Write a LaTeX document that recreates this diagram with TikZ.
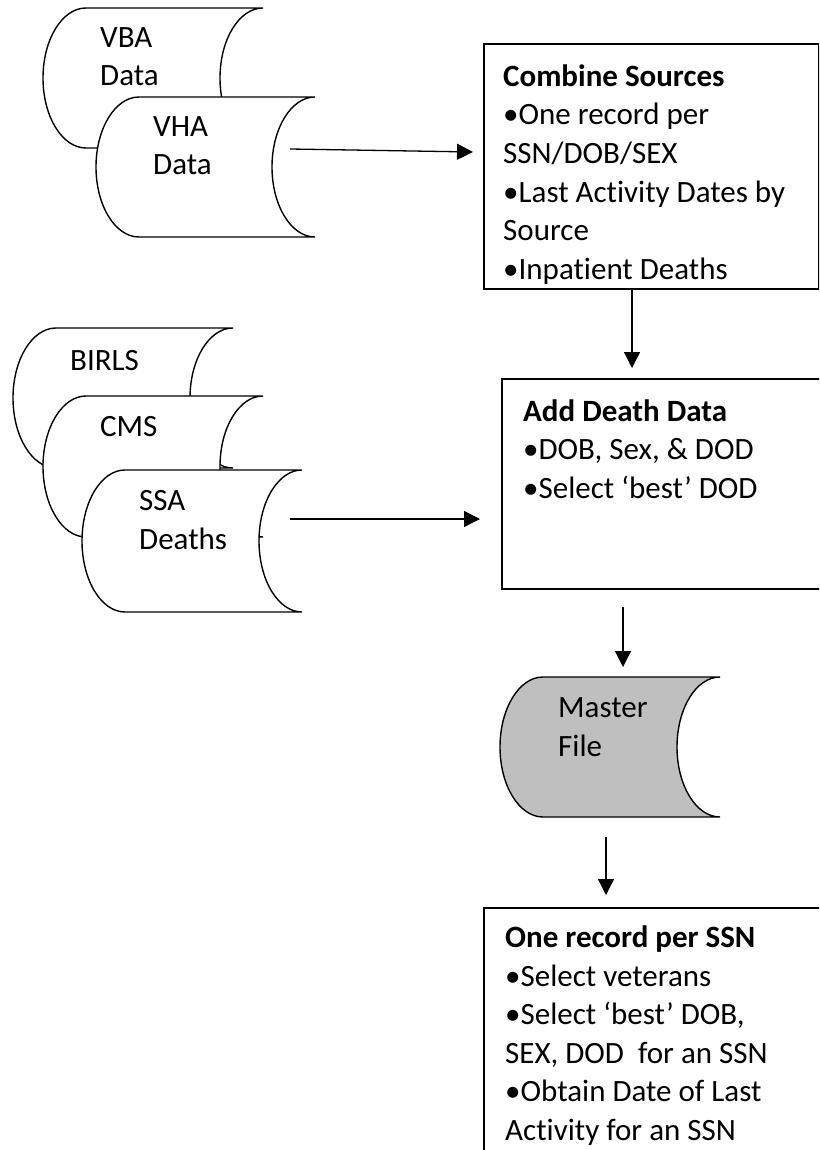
\documentclass[tikz,border=0pt]{standalone}
\usepackage{fontspec}
\setmainfont{Carlito}[Ligatures=NoCommon]
\usetikzlibrary{arrows.meta}
\definecolor{mastergray}{HTML}{BFBFBF}
\newcommand\sdshape[5]{% L T R B fill
  \pgfmathsetmacro\sdrx{43}
  \pgfmathsetmacro\sdry{(#4-#2)/2}
  \pgfmathsetmacro\sdmy{(#2+#4)/2}
  \pgfmathsetmacro\sdkx{0.5523*43}
  \pgfmathsetmacro\sdky{0.5523*\sdry}
  \draw[cyl, fill=#5] (#1+\sdrx,#2) -- (#3,#2)
    .. controls (#3-\sdkx,#2) and (#3-\sdrx,\sdmy-\sdky) .. (#3-\sdrx,\sdmy)
    .. controls (#3-\sdrx,\sdmy+\sdky) and (#3-\sdkx,#4) .. (#3,#4)
    -- (#1+\sdrx,#4)
    .. controls (#1+\sdrx-\sdkx,#4) and (#1,\sdmy+\sdky) .. (#1,\sdmy)
    .. controls (#1,\sdmy-\sdky) and (#1+\sdrx-\sdkx,#2) .. cycle;
}
\begin{document}
\begin{tikzpicture}[x=1pt,y=-1pt,
  txt/.style={anchor=base west, inner sep=0pt, align=left, font=\fontsize{31}{38.5}\selectfont},
  boxshape/.style={draw, line width=1.6pt, fill=white, inner sep=0pt, anchor=north west},
  conn/.style={line width=1.3pt, -{Triangle[length=16pt,width=16pt]}},
  cyl/.style={draw, line width=1.4pt}]
\useasboundingbox (0,0) rectangle (819,1150);
\clip (0,0) rectangle (819,1150);
\fill[white] (0,0) rectangle (819,1150);

% sources 1 (text nodes anchored at the baseline of their last line)
\sdshape{43}{8}{263}{148}{white}
\node[txt] (vba) at (100,86) {VBA\\Data};
\sdshape{96}{97}{315}{237}{white}
\node[txt] (vha) at (153,175) {VHA\\Data};

% sources 2
\sdshape{13}{328}{233}{468}{white}
\node[txt] (birls) at (70,370) {BIRLS};
\sdshape{43}{396}{263}{537}{white}
\node[txt] (cms) at (100,436) {CMS};
\sdshape{82}{470}{302}{612}{white}
\node[txt] (ssa) at (139,549) {SSA\\Deaths};

% master
\sdshape{500}{677}{720}{817}{mastergray}
\node[txt] (master) at (558,756) {Master\\File};

% boxes
\node[boxshape, minimum width=335pt, minimum height=245pt] (combine) at (483,43) {};
\node[txt] (combinetext) at (503,279) {\textbf{Combine Sources}\\•One record per\\SSN/DOB/SEX\\•Last Activity Dates by\\Source\\•Inpatient Deaths};

\node[boxshape, minimum width=400pt, minimum height=210pt] (death) at (501,378) {};
\node[txt] (deathtext) at (523,498) {\textbf{Add Death Data}\\•DOB, Sex, \& DOD\\•Select ‘best’ DOD};

\node[boxshape, minimum width=400pt, minimum height=300pt] (onerec) at (483,907) {};
\node[txt] (onerectext) at (505,1140) {\textbf{One record per SSN}\\•Select veterans\\•Select ‘best’ DOB,\\SEX, DOD\ \ for an SSN\\•Obtain Date of Last\\Activity for an SSN};

% connectors
\coordinate (a1s) at (290,149);
\coordinate (a1e) at (473,152);
\draw[conn] (a1s) -- (a1e);
\coordinate (a2s) at (632,288);
\coordinate (a2e) at (632,368);
\draw[conn] (a2s) -- (a2e);
\coordinate (a3s) at (290,519);
\coordinate (a3e) at (480,519);
\draw[conn] (a3s) -- (a3e);
\coordinate (a4s) at (623,607);
\coordinate (a4e) at (623,667);
\draw[conn] (a4s) -- (a4e);
\coordinate (a5s) at (606,837);
\coordinate (a5e) at (606,895);
\draw[conn] (a5s) -- (a5e);
\end{tikzpicture}
\end{document}
